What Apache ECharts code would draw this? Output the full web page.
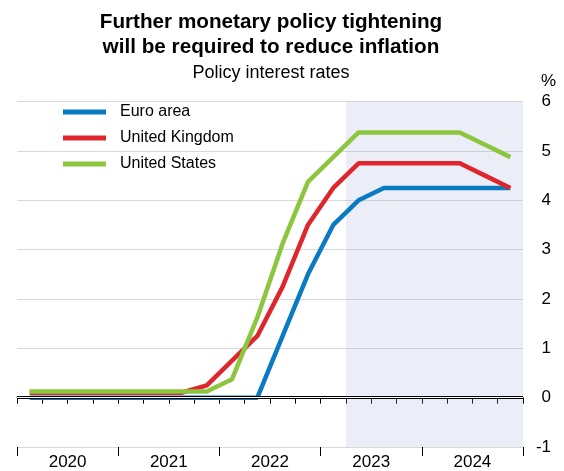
<!DOCTYPE html>
<html>
<head>
<meta charset="utf-8">
<script src="https://cdn.jsdelivr.net/npm/echarts@6/dist/echarts.min.js"></script>
<style>
html,body{margin:0;padding:0;background:#fff;}
#chart{width:564px;height:471px;}
</style>
</head>
<body>
<div id="chart"></div>
<script>
// ---- data ----
var quarters = ['2020 Q1','2020 Q2','2020 Q3','2020 Q4',
                '2021 Q1','2021 Q2','2021 Q3','2021 Q4',
                '2022 Q1','2022 Q2','2022 Q3','2022 Q4',
                '2023 Q1','2023 Q2','2023 Q3','2023 Q4',
                '2024 Q1','2024 Q2','2024 Q3','2024 Q4'];
var years = ['2020','2021','2022','2023','2024'];
var euroArea      = [0,0,0,0, 0,0,0,0, 0,0,1.25,2.5, 3.5,4.0,4.25,4.25, 4.25,4.25,4.25,4.25];
var unitedKingdom = [0.1,0.1,0.1,0.1, 0.1,0.1,0.1,0.25, 0.75,1.25,2.25,3.5, 4.25,4.75,4.75,4.75, 4.75,4.75,4.5,4.25];
var unitedStates  = [0.125,0.125,0.125,0.125, 0.125,0.125,0.125,0.125, 0.375,1.625,3.125,4.375, 4.875,5.375,5.375,5.375, 5.375,5.375,5.125,4.875];
var projectionStart = '2023 Q2';
var yTicks = {min: -1, max: 6, interval: 1};
var unitLabel = '%';

var FONT = 'Liberation Sans, Arial, sans-serif';
var chart = echarts.init(document.getElementById('chart'), null, {renderer: 'canvas'});
var projIdx = quarters.indexOf(projectionStart);

function lineSeries(name, data, color) {
  return {
    name: name, type: 'line', data: data, xAxisIndex: 0, yAxisIndex: 0,
    symbol: 'none', lineStyle: {color: color, width: 4.5}, itemStyle: {color: color},
    emphasis: {disabled: true}, animation: false
  };
}

var option = {
  animation: false,
  title: [
    {
      text: 'Further monetary policy tightening\nwill be required to reduce inflation',
      subtext: 'Policy interest rates',
      left: 266, top: 5, textAlign: 'center', itemGap: 3,
      textStyle: {fontFamily: FONT, fontSize: 20.7, fontWeight: 'bold', color: '#000', lineHeight: 25},
      subtextStyle: {fontFamily: FONT, fontSize: 18, color: '#000', lineHeight: 20}
    },
    {
      text: unitLabel, left: 541, top: 72, padding: 0,
      textStyle: {fontFamily: FONT, fontSize: 17, fontWeight: 'normal', color: '#000', lineHeight: 19}
    }
  ],
  legend: {
    orient: 'vertical', left: 58, top: 99, itemWidth: 43, itemHeight: 5, itemGap: 10,
    icon: 'rect',
    textStyle: {fontFamily: FONT, fontSize: 16, color: '#000', lineHeight: 16, padding: [0,0,0,9]},
    data: ['Euro area', 'United Kingdom', 'United States']
  },
  grid: {left: 17, right: 41, top: 101.6, bottom: 22, containLabel: false},
  xAxis: [
    {
      type: 'category', data: quarters, boundaryGap: true, position: 'bottom',
      axisLine: {show: true, lineStyle: {color: '#000', width: 1}},
      axisTick: {show: true, interval: 0, length: 6, lineStyle: {color: '#000'}},
      axisLabel: {show: false}, splitLine: {show: false}
    },
    {
      type: 'category', data: years, boundaryGap: true, position: 'bottom',
      axisLine: {show: false},
      axisTick: {show: true, interval: 0, length: 9, lineStyle: {color: '#000'}},
      axisLabel: {show: true, interval: 0, margin: 7, fontFamily: FONT, fontSize: 17, color: '#000'},
      splitLine: {show: false}
    },
    {
      type: 'value', min: 0, max: quarters.length, show: false
    }
  ],
  yAxis: {
    type: 'value', position: 'right', min: yTicks.min, max: yTicks.max, interval: yTicks.interval,
    axisLine: {show: false}, axisTick: {show: false},
    axisLabel: {fontFamily: FONT, fontSize: 17, color: '#000', align: 'right', margin: 28},
    splitLine: {show: true, lineStyle: {color: '#d9d9d9', width: 1}}
  },
  series: [
    {
      name: 'projection', type: 'line', xAxisIndex: 2, yAxisIndex: 0, data: [],
      silent: true, z: 1,
      markArea: {
        silent: true,
        itemStyle: {color: 'rgba(155,170,210,0.2)'},
        data: [[{xAxis: projIdx}, {xAxis: quarters.length}]]
      }
    },
    lineSeries('Euro area', euroArea, '#0A7BC2'),
    lineSeries('United Kingdom', unitedKingdom, '#E0262D'),
    lineSeries('United States', unitedStates, '#8CC63F'),
    {
      name: 'zero', type: 'line', xAxisIndex: 2, yAxisIndex: 0, data: [], silent: true, z: 10,
      markLine: {
        silent: true, symbol: 'none', label: {show: false},
        data: [
          {yAxis: 0, lineStyle: {color: '#000', width: 3.2, type: 'solid'}},
          {yAxis: 0, lineStyle: {color: '#fff', width: 1, type: 'solid'}}
        ]
      }
    }
  ]
};
chart.setOption(option);
</script>
</body>
</html>
